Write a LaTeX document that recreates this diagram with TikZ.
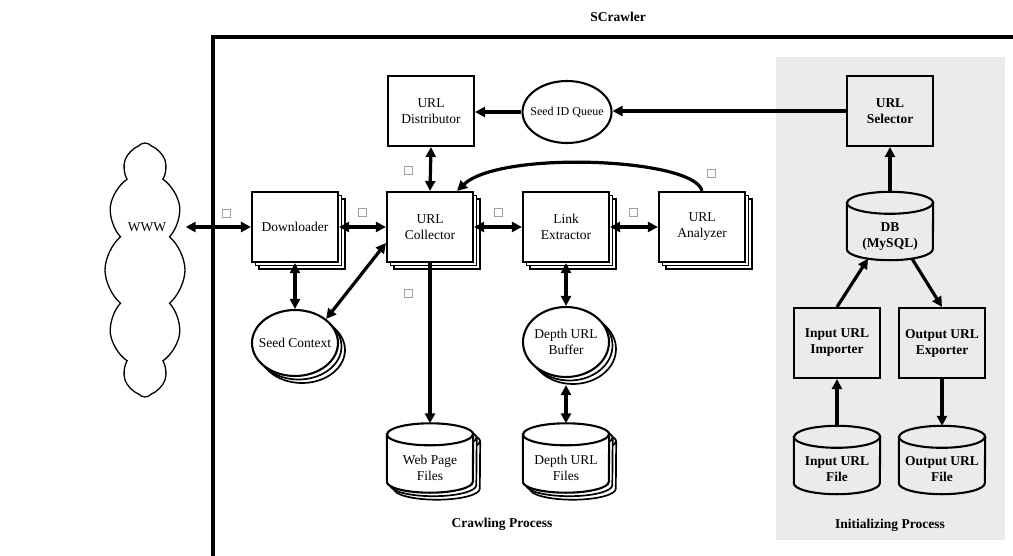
\documentclass[tikz,border=0pt]{standalone}
\usepackage{fontspec}
\setmainfont{Liberation Serif}
\usetikzlibrary{shapes.geometric,shapes.symbols,shadows,arrows.meta}
\definecolor{panel}{RGB}{235,235,235}
\definecolor{sqgray}{RGB}{160,160,160}
\newcommand{\drawcyl}[2]{%
  \draw[#2] ([yshift=-11pt]#1.north west) -- ([yshift=11pt]#1.south west)
     arc[start angle=180, end angle=360, x radius=43pt, y radius=11pt]
     -- ([yshift=-11pt]#1.north east)
     arc[start angle=0, end angle=180, x radius=43pt, y radius=11pt] -- cycle;
  \draw[#2, fill=none] ([yshift=-11pt]#1.north west)
     arc[start angle=180, end angle=360, x radius=43pt, y radius=11pt];
}
\begin{document}
\begin{tikzpicture}[x=1pt,y=-1pt,
  txt/.style={font=\fontsize{13.5}{16}\selectfont, align=center},
  bx/.style={txt, draw, line width=2.1pt, minimum width=86pt, minimum height=70pt, inner sep=0pt},
  stk/.style={copy shadow={shadow xshift=7pt, shadow yshift=-7pt, draw=black, fill=white, line width=1.7pt},
              copy shadow={shadow xshift=3.5pt, shadow yshift=-3.5pt, draw=black, fill=white, line width=1.7pt}, fill=white},
  ell/.style={ellipse, draw, line width=2.1pt, minimum width=86pt, minimum height=68pt, inner sep=0pt},
  cylbox/.style={minimum width=86pt, minimum height=69pt, inner sep=0pt},
  cylline/.style={line width=2.1pt},
  cylback2/.style={line width=1.7pt, fill=white, transform canvas={shift={(7pt,-7pt)}}},
  cylback1/.style={line width=1.7pt, fill=white, transform canvas={shift={(3.5pt,-3.5pt)}}},
  bld/.style={font=\fontsize{13.5}{16}\selectfont\bfseries, align=center},
  tinysq/.style={draw=sqgray, line width=0.6pt, minimum size=8pt, inner sep=0pt},
  arr/.style={line width=3.2pt, -{Triangle[length=10pt,width=10pt]}},
  dbl/.style={line width=3.2pt, {Triangle[length=10pt,width=10pt]}-{Triangle[length=10pt,width=10pt]}},
]
\useasboundingbox (0,0) rectangle (1013,555);
% panel and frame
\fill[panel] (776,57) rectangle (1005,540);
\draw[line width=4pt] (213,560) -- (213,37) -- (1020,37);
\node[bld] (title) at (618,17) {SCrawler};
\node[bld] (crawl) at (502,524) {Crawling Process};
\node[bld] (init) at (890,525) {Initializing Process};

% cloud
\node[cloud, draw, line width=1.3pt, cloud puffs=12, cloud puff arc=100, cloud ignores aspect,
      minimum width=80pt, minimum height=254pt, inner sep=0pt] (www) at (145,270) {};
\node[txt] (wwwt) at (147,227) {WWW};

% top row
\node[bx, fill=white] (ud) at (431,111) {URL\\Distributor};
\node[ell, minimum width=89pt, minimum height=62pt,
      label={[name=siqt, font=\fontsize{12}{14}\selectfont]center:Seed ID Queue}] (siq) at (567,112) {};
\node[bx, bld] (us) at (890,111) {URL\\Selector};

% middle row
\node[bx, stk] (dl) at (295,227) {Downloader};
\node[bx, stk] (uc) at (430,227) {URL\\Collector};
\node[bx, stk] (le) at (566,227) {Link\\Extractor};
\node[bx, stk] (ua) at (702,227) {URL\\Analyzer};

% lower
\node[ell, stk, minimum height=66pt, label={[name=sct, txt]center:Seed Context}] (sc) at (295,343) {};
\node[ell, stk, minimum height=70pt, label={[name=dubt, txt]center:Depth URL\\Buffer}] (dub) at (566,342) {};

\node[cylbox] (wp) at (430,458) {};
\drawcyl{wp}{cylback2}\drawcyl{wp}{cylback1}\drawcyl{wp}{cylline, fill=white}
\node[txt] (wpt) at (430,468) {Web Page\\Files};
\node[cylbox] (df) at (566,458) {};
\drawcyl{df}{cylback2}\drawcyl{df}{cylback1}\drawcyl{df}{cylline, fill=white}
\node[txt] (dft) at (566,468) {Depth URL\\Files};

% right panel
\node[cylbox, minimum height=68pt] (mysql) at (890,226) {};
\drawcyl{mysql}{cylline}
\node[bld] (mysqlt) at (890,237) {DB\\(MySQL)};
\node[bx, bld] (ii) at (837,343) {Input URL\\Importer};
\node[bx, bld] (oe) at (942,343) {Output URL\\Exporter};
\node[cylbox, minimum height=68pt] (if) at (837,460) {};
\drawcyl{if}{cylline}
\node[bld] (ift) at (837,469) {Input URL\\File};
\node[cylbox, minimum height=68pt] (of) at (942,460) {};
\drawcyl{of}{cylline}
\node[bld] (oft) at (942,469) {Output URL\\File};

% connectors
\draw[dbl] (www.east |- dl.west) -- (dl.west);
\draw[dbl] (dl.east) -- (uc.west);
\draw[dbl] (uc.east) -- (le.west);
\draw[dbl] (le.east) -- (ua.west);
\draw[dbl] (ud.south) -- (uc.north);
\draw[arr] (us.west) -- (us.west -| siq.east);
\draw[arr] (siq.west) -- (siq.west -| ud.east);
\draw[arr] (ua.north) .. controls (695,158) and (500,150) .. ([xshift=27pt]uc.north);
\draw[dbl] (dl.south) -- (sc.north);
\draw[dbl] ([yshift=-16pt]uc.west) -- (sc.north east);
\draw[arr] (uc.south) -- (wp.north);
\draw[dbl] (le.south) -- (dub.north);
\draw[dbl] ([yshift=-7pt]dub.south) -- (df.north);
\draw[arr] (mysql.north) -- (us.south);
\draw[arr] (ii.north) -- ([xshift=-22pt,yshift=1.5pt]mysql.south);
\draw[arr] ([xshift=22pt,yshift=1.5pt]mysql.south) -- (oe.north);
\draw[arr] (if.north) -- (ii.south);
\draw[arr] (oe.south) -- (of.north);

% small markers
\node[tinysq] (m1) at (226,213) {};
\node[tinysq] (m2) at (362,212) {};
\node[tinysq] (m3) at (408,170) {};
\node[tinysq] (m4) at (498,212) {};
\node[tinysq] (m5) at (633,212) {};
\node[tinysq] (m6) at (711,173) {};
\node[tinysq] (m7) at (408,293) {};
\end{tikzpicture}
\end{document}
